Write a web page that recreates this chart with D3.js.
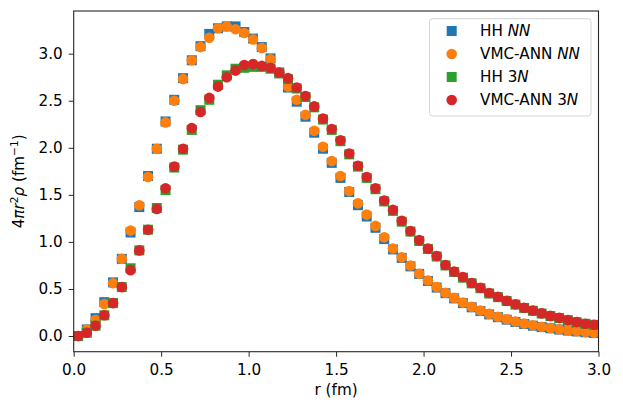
<!DOCTYPE html>
<html>
<head>
<meta charset="utf-8">
<script src="https://cdn.jsdelivr.net/npm/d3@7"></script>
<style>
  html, body { margin: 0; padding: 0; background: #fff; }
  svg { display: block; font-family: "DejaVu Sans", sans-serif; }
</style>
</head>
<body>
<svg id="chart" width="623" height="411"></svg>
<script>
// r grid (fm)
const r = d3.range(60).map(i => +(0.025 + 0.05 * i).toFixed(3));

const hhNN = [0.00,0.07,0.19,0.36,0.57,0.82,1.10,1.37,1.70,1.99,
              2.28,2.51,2.74,2.93,3.08,3.21,3.27,3.29,3.29,3.23,
              3.16,3.07,2.95,2.80,2.64,2.49,2.33,2.16,1.99,1.84,
              1.68,1.53,1.39,1.27,1.15,1.03,0.92,0.83,0.74,0.66,
              0.585,0.515,0.455,0.40,0.35,0.305,0.265,0.23,0.2,0.174,
              0.15,0.128,0.11,0.095,0.082,0.069,0.058,0.049,0.04,0.032];

const vmcNN = [0.00,0.07,0.17,0.34,0.56,0.82,1.12,1.39,1.69,1.99,
               2.27,2.50,2.73,2.93,3.07,3.17,3.27,3.29,3.26,3.22,
               3.15,3.06,2.94,2.80,2.65,2.51,2.35,2.18,2.01,1.86,
               1.70,1.54,1.41,1.29,1.17,1.05,0.93,0.836,0.75,0.662,
               0.59,0.52,0.46,0.405,0.355,0.31,0.27,0.235,0.205,0.178,
               0.155,0.132,0.114,0.098,0.085,0.071,0.060,0.051,0.042,0.034];

const hh3N = [0.00,0.035,0.11,0.22,0.35,0.52,0.72,0.91,1.13,1.36,
              1.55,1.79,1.98,2.19,2.40,2.51,2.67,2.77,2.84,2.85,
              2.86,2.86,2.84,2.79,2.73,2.63,2.54,2.43,2.30,2.19,
              2.07,1.93,1.80,1.68,1.56,1.43,1.33,1.215,1.11,1.01,
              0.925,0.845,0.75,0.68,0.62,0.56,0.508,0.452,0.413,0.372,
              0.334,0.298,0.268,0.239,0.212,0.191,0.168,0.147,0.13,0.119];

const vmc3N = [0.00,0.035,0.11,0.22,0.35,0.52,0.70,0.91,1.13,1.35,
               1.57,1.80,1.99,2.21,2.38,2.53,2.65,2.75,2.82,2.88,
               2.89,2.87,2.85,2.80,2.74,2.64,2.55,2.44,2.31,2.20,
               2.08,1.94,1.81,1.69,1.57,1.44,1.34,1.225,1.115,1.02,
               0.93,0.85,0.755,0.685,0.627,0.563,0.513,0.457,0.418,0.375,
               0.337,0.30,0.27,0.241,0.214,0.193,0.17,0.149,0.131,0.12];

const xTicks = [0.0, 0.5, 1.0, 1.5, 2.0, 2.5, 3.0];
const yTicks = [0.0, 0.5, 1.0, 1.5, 2.0, 2.5, 3.0];

const series = [
  { name: "HH", tag: "NN", values: hhNN, color: "#1f77b4", shape: "square" },
  { name: "VMC-ANN", tag: "NN", values: vmcNN, color: "#ff7f0e", shape: "circle" },
  { name: "HH 3", tag: "N", values: hh3N, color: "#2ca02c", shape: "square" },
  { name: "VMC-ANN 3", tag: "N", values: vmc3N, color: "#d62728", shape: "circle" }
];

const svg = d3.select("#chart");
const L = 73.7, R = 598.5, T = 11, B = 351.7;
const x = d3.scaleLinear().domain([0, 3.0]).range([L, R]);
const y = d3.scaleLinear().domain([-0.1665, 3.4535]).range([B, T]);
const FS = 15.2;

svg.append("defs").append("clipPath").attr("id", "clip")
  .append("rect").attr("x", L).attr("y", T).attr("width", R - L).attr("height", B - T);

const plot = svg.append("g").attr("clip-path", "url(#clip)");
const SQ = 10, CR = 5.3;

function drawMarker(g, shape, cx, cy, color) {
  if (shape === "square") {
    g.append("rect").attr("x", cx - SQ / 2).attr("y", cy - SQ / 2)
      .attr("width", SQ).attr("height", SQ).attr("fill", color);
  } else {
    g.append("circle").attr("cx", cx).attr("cy", cy).attr("r", CR).attr("fill", color);
  }
}

series.forEach(s => {
  const g = plot.append("g");
  s.values.forEach((v, i) => drawMarker(g, s.shape, x(r[i]), y(v), s.color));
});

// axes
const xAxis = d3.axisBottom(x).tickValues(xTicks).tickFormat(d3.format(".1f")).tickSize(5).tickPadding(7.5);
const yAxis = d3.axisLeft(y).tickValues(yTicks).tickFormat(d3.format(".1f")).tickSize(5).tickPadding(6);

const gx = svg.append("g").attr("transform", `translate(0,${B})`).call(xAxis);
const gy = svg.append("g").attr("transform", `translate(${L},0)`).call(yAxis);
[gx, gy].forEach(g => {
  g.select(".domain").remove();
  g.selectAll(".tick line").attr("stroke", "#262626").attr("stroke-width", 1);
  g.selectAll(".tick text").attr("font-size", FS).attr("fill", "#000")
    .attr("font-family", "DejaVu Sans");
});

// frame
svg.append("rect").attr("x", L).attr("y", T).attr("width", R - L).attr("height", B - T)
  .attr("fill", "none").attr("stroke", "#262626").attr("stroke-width", 1.1);

// axis labels
svg.append("text").attr("x", (L + R) / 2).attr("y", 394.5).attr("text-anchor", "middle")
  .attr("font-size", FS).text("r (fm)");

const yl = svg.append("text").attr("transform", `translate(24,${(T + B) / 2}) rotate(-90)`)
  .attr("text-anchor", "middle").attr("font-size", FS);
yl.append("tspan").text("4");
yl.append("tspan").attr("font-style", "italic").text("πr");
yl.append("tspan").attr("font-size", FS * 0.7).attr("dy", -6).text("2");
yl.append("tspan").attr("font-style", "italic").attr("dy", 6).text("ρ");
yl.append("tspan").text(" (fm");
yl.append("tspan").attr("font-size", FS * 0.7).attr("dy", -6).text("−1");
yl.append("tspan").attr("dy", 6).text(")");

// legend
const lg = svg.append("g");
lg.append("rect").attr("x", 429.5).attr("y", 18.7).attr("width", 161.5).attr("height", 97.3)
  .attr("rx", 3).attr("fill", "#fff").attr("fill-opacity", 0.8)
  .attr("stroke", "#d6d6d6").attr("stroke-width", 1);
series.forEach((s, i) => {
  const cy = 31 + i * 23;
  drawMarker(lg, s.shape, 451.7, cy, s.color);
  const t = lg.append("text").attr("x", 480).attr("y", cy + 5.2).attr("font-size", FS);
  t.append("tspan").text(s.name + (s.tag === "NN" ? " " : ""));
  t.append("tspan").attr("font-style", "italic").text(s.tag);
});
</script>
</body>
</html>
